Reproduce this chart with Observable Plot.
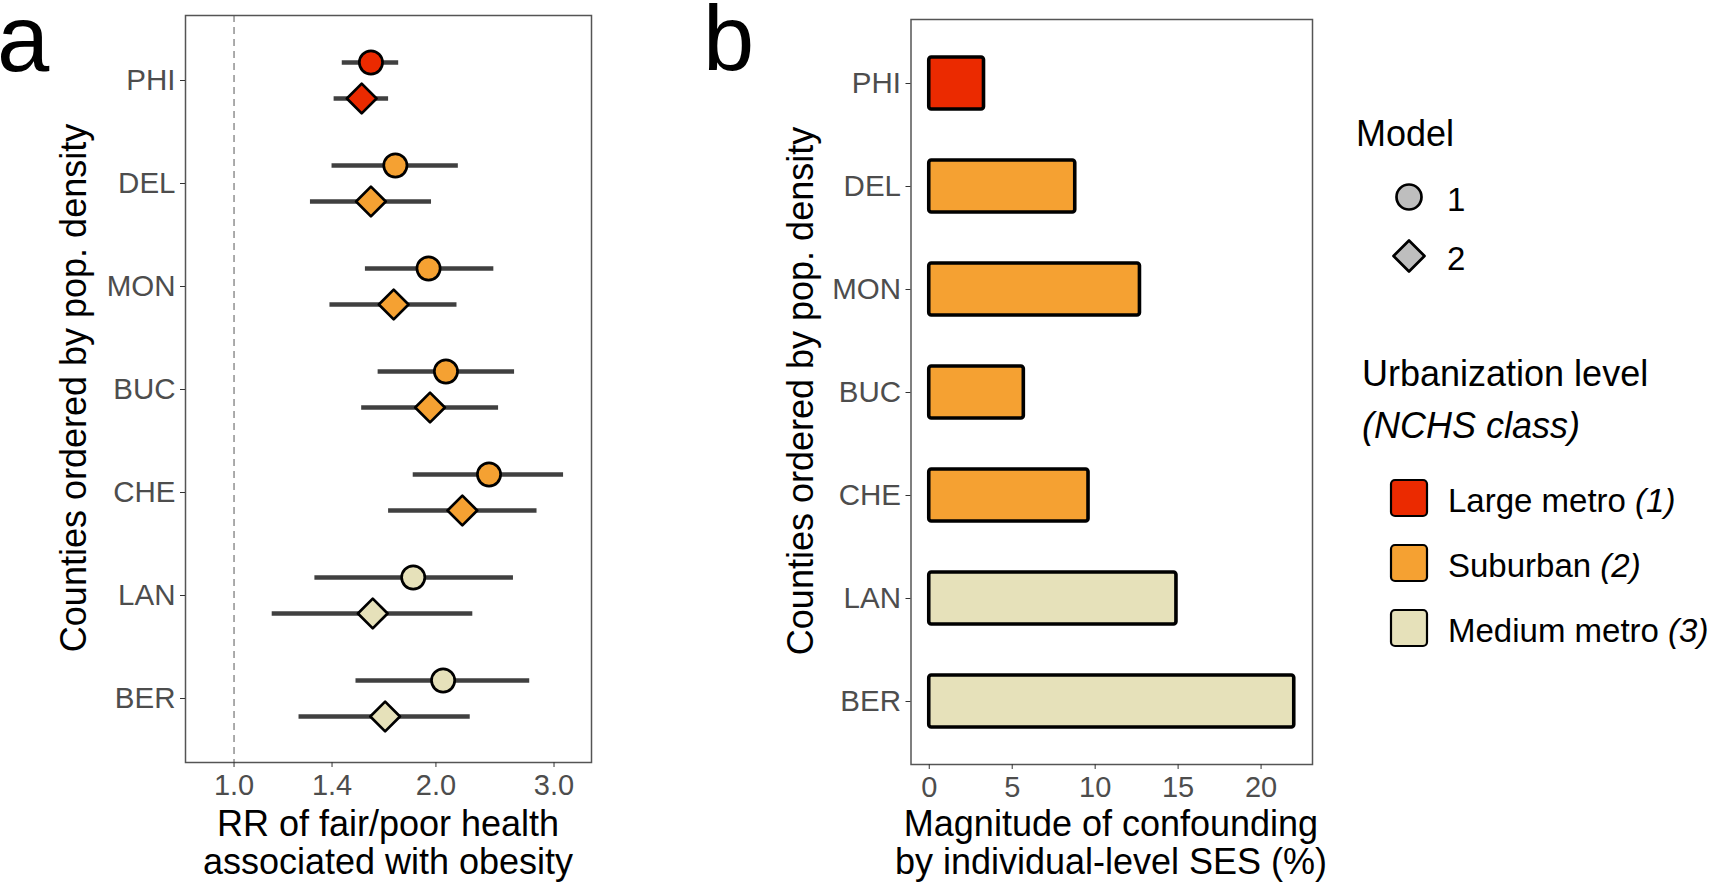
<!DOCTYPE html>
<html>
<head>
<meta charset="utf-8">
<script src="https://cdn.jsdelivr.net/npm/d3@7"></script>
<script src="https://cdn.jsdelivr.net/npm/@observablehq/plot@0.6"></script>
<style>
  html, body { margin: 0; padding: 0; background: #fff; }
  #wrap { position: relative; width: 1714px; height: 887px; overflow: hidden; font-family: "Liberation Sans", Arial, Helvetica, sans-serif; }
  #wrap > * { position: absolute; }
  #overlay { left: 0; top: 0; pointer-events: none; }
</style>
</head>
<body>
<div id="wrap"></div>
<script>
// ---------------- data ----------------
const counties = ["PHI", "DEL", "MON", "BUC", "CHE", "LAN", "BER"];
const urbanLevel = ["Large metro", "Suburban", "Suburban", "Suburban", "Suburban", "Medium metro", "Medium metro"];

// Panel a: relative risks (RR) with 95% CI, model 1 and model 2
const rrModel1 = [1.60, 1.74, 1.95, 2.07, 2.40, 1.85, 2.05];
const loModel1 = [1.45, 1.40, 1.57, 1.64, 1.85, 1.32, 1.52];
const hiModel1 = [1.76, 2.16, 2.44, 2.62, 3.10, 2.61, 2.76];
const rrModel2 = [1.55, 1.60, 1.73, 1.96, 2.19, 1.61, 1.68];
const loModel2 = [1.41, 1.30, 1.39, 1.55, 1.70, 1.14, 1.25];
const hiModel2 = [1.70, 1.97, 2.15, 2.48, 2.83, 2.27, 2.25];

// Panel b: magnitude of confounding (%)
const confounding = [3.3, 8.8, 12.7, 5.7, 9.6, 14.9, 22.0];

// Legends / scales
const levelNames = ["Large metro", "Suburban", "Medium metro"];
const levelCodes = ["(1)", "(2)", "(3)"];
const levelColors = ["#EB2A00", "#F5A132", "#E6E1BA"];
const modelNames = ["1", "2"];
const modelKeyFill = "#BEBEBE";
const xTicksA = [1.0, 1.4, 2.0, 3.0];
const xTicksB = [0, 5, 10, 15, 20];

// ---------------- tables built from arrays ----------------
const model1 = counties.map((c, i) => ({county: c, level: urbanLevel[i], rr: rrModel1[i], lo: loModel1[i], hi: hiModel1[i]}));
const model2 = counties.map((c, i) => ({county: c, level: urbanLevel[i], rr: rrModel2[i], lo: loModel2[i], hi: hiModel2[i]}));
const conf = counties.map((c, i) => ({county: c, level: urbanLevel[i], value: confounding[i]}));

const FONT = '"Liberation Sans", Arial, Helvetica, sans-serif';
const TICK_COLOR = "#4D4D4D";
const BAR_COLOR = "#404040";

const diamondSymbol = {
  draw(ctx, size) {
    const s = Math.sqrt(size / Math.PI) * 1.28;
    ctx.moveTo(0, -s); ctx.lineTo(s, 0); ctx.lineTo(0, s); ctx.lineTo(-s, 0); ctx.closePath();
  }
};

const colorScale = {domain: levelNames, range: levelColors, legend: false};

// ---------------- panel a ----------------
const plotA = Plot.plot({
  width: 600,
  height: 887,
  marginLeft: 185,
  marginRight: 9,
  marginTop: 15,
  marginBottom: 125,
  style: {fontFamily: FONT, color: TICK_COLOR, background: "transparent", overflow: "visible"},
  x: {type: "log", domain: [0.8465, 3.412]},
  y: {type: "point", domain: counties, padding: 0.6},
  color: colorScale,
  marks: [
    Plot.ruleX([1], {stroke: "#888", strokeWidth: 1.4, strokeDasharray: "7,5"}),
    Plot.ruleY(model1, {y: "county", x1: "lo", x2: "hi", dy: -18, stroke: BAR_COLOR, strokeWidth: 4.5}),
    Plot.ruleY(model2, {y: "county", x1: "lo", x2: "hi", dy: 18, stroke: BAR_COLOR, strokeWidth: 4.5}),
    Plot.dot(model1, {x: "rr", y: "county", dy: -18, r: 11.6, symbol: "circle", fill: "level", stroke: "black", strokeWidth: 2.7}),
    Plot.dot(model2, {x: "rr", y: "county", dy: 18, r: 11.6, symbol: diamondSymbol, fill: "level", stroke: "black", strokeWidth: 2.7, strokeLinejoin: "round"}),
    Plot.frame({stroke: "#555", strokeWidth: 1.5}),
    Plot.axisX({ticks: xTicksA, tickFormat: d => d.toFixed(1), tickSize: 5, tickPadding: 7, fontSize: 29, stroke: "#333", label: null}),
    Plot.axisY({tickSize: 5, tickPadding: 5, fontSize: 29.5, stroke: "#333", label: null})
  ]
});
plotA.style.left = "0px";
plotA.style.top = "0px";

// ---------------- panel b ----------------
const plotB = Plot.plot({
  width: 620,
  height: 887,
  marginLeft: 210.5,
  marginRight: 8,
  marginTop: 19,
  marginBottom: 123,
  style: {fontFamily: FONT, color: TICK_COLOR, background: "transparent", overflow: "visible"},
  x: {domain: [-1.1, 23.1]},
  y: {type: "band", domain: counties, paddingInner: 0.5, paddingOuter: 0.35},
  color: colorScale,
  marks: [
    Plot.barX(conf, {x1: 0, x2: "value", y: "county", fill: "level", stroke: "black", strokeWidth: 3.6, rx: 2.5}),
    Plot.frame({stroke: "#555", strokeWidth: 1.5}),
    Plot.axisX({ticks: xTicksB, tickSize: 5, tickPadding: 7, fontSize: 29, stroke: "#333", label: null}),
    Plot.axisY({tickSize: 5, tickPadding: 5, fontSize: 29.5, stroke: "#333", label: null})
  ]
});
plotB.style.left = "700px";
plotB.style.top = "0px";

const wrap = document.getElementById("wrap");
wrap.appendChild(plotA);
wrap.appendChild(plotB);

// ---------------- overlay: titles, panel letters, legends ----------------
const W = 1714, H = 887;
const svg = d3.create("svg").attr("id", "overlay").attr("width", W).attr("height", H)
  .attr("viewBox", `0 0 ${W} ${H}`).style("font-family", FONT);

// panel letters
svg.append("text").attr("x", -3).attr("y", 71).attr("font-size", 94).attr("fill", "#000").text("a");
svg.append("text").attr("x", 703).attr("y", 70).attr("font-size", 92).attr("fill", "#000").text("b");

// x-axis titles
function xTitle(cx, lines) {
  const t = svg.append("text").attr("text-anchor", "middle").attr("font-size", 36).attr("fill", "#000");
  lines.forEach((l, i) => t.append("tspan").attr("x", cx).attr("y", 836 + i * 38).text(l));
}
xTitle(388, ["RR of fair/poor health", "associated with obesity"]);
xTitle(1111, ["Magnitude of confounding", "by individual-level SES (%)"]);

// y-axis titles
function yTitle(bx, cy) {
  svg.append("text").attr("transform", `translate(${bx},${cy}) rotate(-90)`)
    .attr("text-anchor", "middle").attr("font-size", 36).attr("fill", "#000")
    .text("Counties ordered by pop. density");
}
yTitle(86, 388);
yTitle(813, 391);

// Model legend
svg.append("text").attr("x", 1356).attr("y", 146).attr("font-size", 36).attr("fill", "#000").text("Model");
const modelKeyY = [197, 256];
svg.append("circle").attr("cx", 1409).attr("cy", modelKeyY[0]).attr("r", 12.5)
  .attr("fill", modelKeyFill).attr("stroke", "#000").attr("stroke-width", 2.7);
const dk = 15.5;
svg.append("path").attr("d", `M1409,${modelKeyY[1] - dk}L${1409 + dk},${modelKeyY[1]}L1409,${modelKeyY[1] + dk}L${1409 - dk},${modelKeyY[1]}Z`)
  .attr("fill", modelKeyFill).attr("stroke", "#000").attr("stroke-width", 2.7).attr("stroke-linejoin", "round");
modelNames.forEach((m, i) => {
  svg.append("text").attr("x", 1447).attr("y", modelKeyY[i] + 14).attr("font-size", 33).attr("fill", "#000").text(m);
});

// Urbanization legend
svg.append("text").attr("x", 1362).attr("y", 386).attr("font-size", 36).attr("fill", "#000").text("Urbanization level");
svg.append("text").attr("x", 1362).attr("y", 438).attr("font-size", 36).attr("font-style", "italic").attr("fill", "#000").text("(NCHS class)");
levelNames.forEach((name, i) => {
  const top = 480 + i * 65;
  svg.append("rect").attr("x", 1391).attr("y", top).attr("width", 36).attr("height", 36).attr("rx", 4)
    .attr("fill", levelColors[i]).attr("stroke", "#000").attr("stroke-width", 2.2);
  const t = svg.append("text").attr("x", 1448).attr("y", top + 31.5).attr("font-size", 33).attr("fill", "#000");
  t.append("tspan").text(name + " ");
  t.append("tspan").attr("font-style", "italic").text(levelCodes[i]);
});

wrap.appendChild(svg.node());
</script>
</body>
</html>
